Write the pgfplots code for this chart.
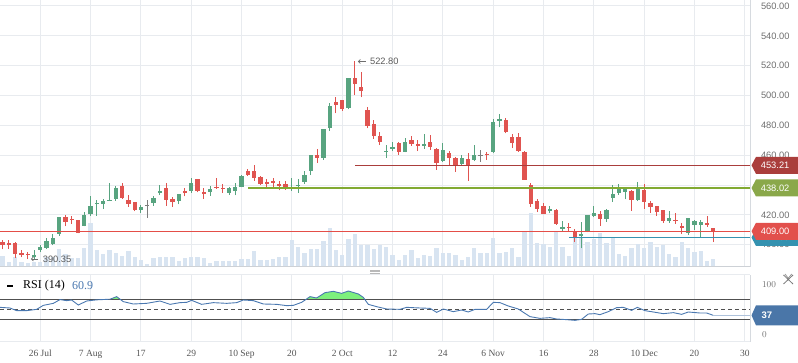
\documentclass[border=0pt]{standalone}
\usepackage{fontspec}
\setmainfont{Liberation Serif}
\setsansfont{Liberation Sans}
\usepackage{pgfplots}
\usepackage{pgfplotstable}
\pgfplotsset{compat=1.18}
\usetikzlibrary{arrows.meta}

\definecolor{cgreen}{RGB}{88,164,128}
\definecolor{cred}{RGB}{224,84,80}
\definecolor{cgray}{RGB}{125,125,125}
\definecolor{gridc}{RGB}{232,235,239}
\definecolor{borderc}{RGB}{214,218,223}
\definecolor{volc}{RGB}{216,228,241}
\definecolor{levelbrown}{RGB}{170,62,60}
\definecolor{levelolive}{RGB}{130,170,50}
\definecolor{levelred}{RGB}{228,78,72}
\definecolor{levelteal}{RGB}{52,146,176}
\definecolor{tagGreen}{RGB}{138,168,74}
\definecolor{tagRed}{RGB}{226,80,76}
\definecolor{tagBrown}{RGB}{170,62,60}
\definecolor{tagTeal}{RGB}{52,146,176}
\definecolor{rsiblue}{RGB}{74,120,176}
\definecolor{rsifill}{RGB}{125,240,125}
\definecolor{txtgray}{RGB}{110,110,110}
\definecolor{dategray}{RGB}{85,85,85}
\definecolor{tagblue}{RGB}{74,118,168}
\definecolor{lineDark}{RGB}{80,80,80}

% i open high low close
\pgfplotstableread{
i o h l c
5 391.8 396.5 390.5 393.1
6 396.5 399.8 394.9 398.7
7 397.6 404.3 397.1 402.5
8 400.5 407.4 399.6 404.3
9 407.4 418.8 406.1 418.6
13 412.8 422.2 412.3 420.0
14 420.6 432.9 419.5 426.0
15 427.5 430.0 419.3 428.2
16 427.3 430.7 424.2 429.1
17 429.5 441.2 429.3 430.2
18 430.4 439.4 429.5 438.0
22 423.5 426.6 421.5 425.5
24 428.0 432.7 426.2 431.3
25 435.1 439.8 433.3 435.6
28 429.5 434.2 427.1 434.0
30 436.0 444.7 434.9 441.4
33 435.6 439.4 432.9 437.1
36 434.7 438.5 433.6 438.0
37 436.0 441.4 433.1 438.9
38 438.9 447.0 438.5 446.1
46 438.3 444.9 436.2 438.9
47 439.4 444.2 434.9 440.0
48 442.3 449.6 440.7 446.5
49 449.6 460.3 446.7 460.1
51 458.3 477.7 456.8 477.5
52 478.4 495.2 476.4 493.0
55 491.6 511.9 490.7 511.7
61 462.4 466.8 458.3 463.0
62 464.8 469.1 462.8 465.4
64 462.4 471.3 461.9 468.8
67 466.6 474.4 464.4 467.1
70 456.1 468.4 455.7 463.5
73 454.3 460.1 453.4 457.9
75 457.0 466.8 455.9 460.1
78 461.9 484.5 461.3 482.0
79 483.4 487.6 478.7 484.0
87 422.8 426.0 421.0 423.9
89 410.8 415.9 409.4 412.1
92 406.0 415.2 397.6 407.2
93 409.2 420.1 408.3 419.9
94 419.0 426.0 418.4 421.3
96 417.5 424.2 415.5 423.3
97 431.5 439.8 428.9 434.0
98 434.9 440.7 433.6 438.7
99 435.1 438.9 430.4 438.7
101 430.0 442.1 429.3 438.7
106 416.1 422.6 414.8 417.9
109 407.7 417.9 406.8 417.7
110 413.5 416.4 409.9 415.7
111 413.5 416.6 405.0 415.2
}\greenT

\pgfplotstableread{
i o h l c
23 426.2 429.8 418.1 426.8
76 459.7 463.3 455.7 460.3
}\grayT

\pgfplotstableread{
i o h l c
0 401.6 403.0 396.9 400.1
1 401.4 403.2 397.4 399.6
2 401.2 401.8 391.3 394.0
3 394.5 396.5 391.6 393.1
4 393.8 395.4 390.35 393.1
10 418.6 420.0 412.3 415.2
11 417.3 419.5 413.9 416.6
12 416.6 416.8 407.6 408.1
19 439.4 441.6 430.7 431.3
20 430.0 433.3 425.5 427.5
21 428.6 428.8 422.4 423.5
26 437.8 441.2 426.2 430.0
27 430.7 432.0 425.5 428.6
29 435.8 438.0 432.4 435.1
31 444.1 444.3 435.1 436.2
32 435.1 437.8 430.9 434.4
34 438.7 444.7 437.4 438.0
35 438.0 440.7 434.7 437.6
39 449.2 451.0 446.3 447.0
40 449.6 453.4 442.9 444.7
41 445.4 446.1 440.0 440.9
42 442.0 443.8 438.2 440.9
43 442.7 444.9 438.5 441.4
44 440.9 442.5 436.4 439.8
45 440.9 442.7 436.9 438.0
50 460.1 464.1 455.0 458.3
53 495.7 498.8 488.0 493.6
54 497.0 497.2 489.8 491.2
56 511.7 522.8 500.3 507.9
57 505.7 515.8 498.8 503.2
58 490.1 492.1 478.0 479.8
59 480.9 483.6 471.1 473.1
60 473.1 475.6 466.8 469.1
63 468.2 469.1 460.4 462.4
65 470.2 472.9 466.2 467.5
66 467.1 470.2 462.8 466.6
68 468.8 473.8 463.5 465.3
69 464.2 464.8 450.1 455.0
71 461.7 462.8 453.2 458.3
72 458.1 459.0 449.0 453.4
74 457.5 461.3 442.9 453.2
77 460.8 462.4 457.0 460.4
80 483.4 484.7 474.7 475.3
81 472.2 474.5 464.7 468.4
82 472.3 474.7 462.3 463.0
83 462.2 462.8 443.4 443.6
84 440.0 441.6 425.5 427.5
85 429.3 430.7 421.9 424.2
86 426.0 427.7 420.4 420.8
88 423.3 423.7 413.4 414.1
90 411.9 414.6 408.5 411.4
91 408.8 410.3 401.8 404.7
95 420.6 422.8 412.6 417.5
100 436.2 436.4 422.8 430.0
102 436.7 440.7 424.0 428.9
103 428.0 429.3 421.3 425.5
104 426.0 426.2 419.5 422.2
105 423.3 423.5 414.4 416.1
107 416.6 421.3 413.9 416.1
108 412.4 414.8 407.4 411.9
112 414.4 419.5 412.1 413.9
113 411.2 411.4 401.8 409.0
}\redT

% volume (bar height in panel pixels)
\pgfplotstableread{
i v
0 11
1 5
2 9.7
3 5
4 3.7
5 5
6 5
7 10.3
8 10.3
9 18.3
10 13
11 9
12 9
13 19
14 44.3
15 17
16 13
17 17
18 14.3
19 11
20 16.3
21 10
22 7
23 3
24 9
25 10
26 10
27 10
28 6
29 9
30 10
31 10
32 9
33 4
34 6
35 6
36 6
37 6
38 8
39 8
40 16
41 7
42 7
43 8
44 10
45 10
46 27
47 20
48 14
49 18
50 18
51 26
52 39
53 17
54 12
55 28
56 33
57 22
58 22
59 18
60 22
61 20
62 12
63 7
64 12
65 17
66 9
67 12
68 11
69 19
70 14
71 14
72 12
73 7
74 10
75 19
76 14
77 14
78 29
79 14
80 15
81 19
82 10
83 35
84 54
85 24
86 23
87 20
88 35
89 20
90 11
91 35
92 30
93 25
94 28
95 34
96 24
97 30
98 13
99 11
100 19
101 23
102 19
103 25
104 20
105 22
106 13
107 10
108 25
109 19
110 15
111 16
112 6
113 8
}\volT

\pgfplotstableread{
i r
-0.41 54
1.18 52.7
2.24 47.4
3.83 47.4
5.42 50
6.48 58
8.07 62
9.13 69.5
10.19 67.4
10.98 68.7
12.04 58.7
13.37 66.7
14.96 69
17.08 70.3
18.14 75.4
19.2 65.4
20.79 60.7
22.91 62
25.03 66.7
26.62 60
28.21 63.4
29.27 64
30.06 68
31.65 60
33.51 63.4
35.63 62
37.22 63.4
38.28 68.7
39.87 67.4
41.46 60.7
43.58 60
45.17 57.4
46.23 58
47.55 64
48.88 75.4
49.93 72.7
51.26 83.4
52.58 86
53.91 82
54.97 86.7
56.56 80.7
57.35 74
58.15 60
59.47 55.4
61.06 50.7
63.18 50
64.24 54
66.36 52.7
67.95 52
69.01 44
70.07 50.7
71.66 45.4
72.98 48.7
74.04 44.7
75.1 50
76.96 50
78.02 64
79.08 63.4
80.4 56.7
81.99 50.7
83.85 35.4
85.44 32
87.03 33.4
88.09 30.7
89.68 29.4
91.0 28
92.06 30
93.12 40.7
94.18 41.4
94.98 39.4
96.3 45.4
97.63 53.4
98.69 54
100.01 48
100.91 54
102.13 47.4
103.46 44.7
105.05 41.4
106.64 43.4
107.96 40
109.02 44.7
110.88 42.7
111.94 42.7
112.99 38
}\rsiT

\pgfplotsset{
  candlewick/.style={draw=none, mark=none, forget plot,
    error bars/.cd, y dir=plus, y explicit, error mark=none,
    error bar style={draw=#1, line width=1pt}},
  candlebody/.style={draw=none, mark=none, forget plot,
    error bars/.cd, y dir=both, y explicit, error mark=none,
    error bar style={draw=#1, line width=4.3pt}},
}

\newcommand{\pricetag}[4]{%
  \fill[#2] ([xshift=1.5pt]#1) -- ++(4.5pt,#4) -- ++(42pt,0pt) -- ++(0pt,-2*#4) -- ++(-42pt,0pt) -- cycle;
  \node[anchor=west, inner sep=0pt, text=white, font=\sffamily\fontsize{9.3}{10}\selectfont] at ([xshift=10.7pt]#1) {#3};
}

\begin{document}
\begin{tikzpicture}
\path[use as bounding box] (0pt,0pt) rectangle (798pt,363pt);

% ---------- grid + price labels ----------
\begin{axis}[at={(0pt,96pt)}, anchor=south west, scale only axis,
  width=750pt, height=267pt,
  xmin=-0.41, xmax=118.83, ymin=385.07, ymax=564.02,
  axis line style={draw=none}, major tick length=0pt,
  xtick={6,14,...,118}, xticklabels={},
  ytick={400,420,...,560}, yticklabel pos=right,
  yticklabel style={font=\sffamily\fontsize{9.3}{10}\selectfont, text=txtgray, anchor=west, xshift=7.5pt},
  /pgf/number format/fixed, /pgf/number format/fixed zerofill,
  /pgf/number format/precision=2, /pgf/number format/assume math mode=true,
  xmajorgrids, ymajorgrids, grid style={gridc, line width=1pt}]
\addplot[draw=none, forget plot] coordinates {(0,400) (1,401)};
\end{axis}

% ---------- volume ----------
\begin{axis}[at={(0pt,96pt)}, anchor=south west, scale only axis,
  width=750pt, height=267pt, hide axis,
  xmin=-0.41, xmax=118.83, ymin=0, ymax=267]
\addplot[ycomb, draw=volc, line width=4.3pt, mark=none] table[x=i, y=v] {\volT};
\end{axis}

% ---------- candles and levels ----------
\begin{axis}[at={(0pt,96pt)}, anchor=south west, scale only axis,
  width=750pt, height=267pt, hide axis, clip=false,
  xmin=-0.41, xmax=118.83, ymin=385.07, ymax=564.02]
\addplot[candlewick=cgreen] table[x=i, y=l, y error plus expr=\thisrow{h}-\thisrow{l}] {\greenT};
\addplot[candlebody=cgreen] table[x=i, y expr=(\thisrow{o}+\thisrow{c})/2, y error expr={max(abs(\thisrow{c}-\thisrow{o})/2,0.35)}] {\greenT};
\addplot[candlewick=cred] table[x=i, y=l, y error plus expr=\thisrow{h}-\thisrow{l}] {\redT};
\addplot[candlebody=cred] table[x=i, y expr=(\thisrow{o}+\thisrow{c})/2, y error expr={max(abs(\thisrow{c}-\thisrow{o})/2,0.35)}] {\redT};
\addplot[candlewick=cgray] table[x=i, y=l, y error plus expr=\thisrow{h}-\thisrow{l}] {\grayT};
\addplot[candlebody=cgray] table[x=i, y expr=(\thisrow{o}+\thisrow{c})/2, y error expr={max(abs(\thisrow{c}-\thisrow{o})/2,0.35)}] {\grayT};

\fill[levelteal] ([yshift=-0.6pt]axis cs:90,404.85) rectangle ([yshift=0.6pt]axis cs:118.83,404.85);
\fill[levelolive] ([yshift=-0.6pt]axis cs:39,438.02) rectangle ([yshift=0.6pt]axis cs:118.83,438.02);
\fill[levelbrown] ([yshift=-0.6pt]axis cs:56,453.21) rectangle ([yshift=0.6pt]axis cs:118.83,453.21);
\fill[levelred] ([yshift=-0.6pt]axis cs:-0.41,409) rectangle ([yshift=0.6pt]axis cs:118.83,409);

\draw[txtgray, line width=0.7pt, -{Straight Barb[length=2pt,width=4pt]}] (axis cs:57.7,522.8) -- (axis cs:56.5,522.8);
\node[anchor=west, inner sep=0pt, text={rgb,255:red,90;green,90;blue,90}, font=\sffamily\fontsize{9.3}{10}\selectfont] at (axis cs:58.4,522.8) {522.80};
\draw[txtgray, line width=0.7pt, -{Straight Barb[length=2pt,width=4pt]}] (axis cs:5.65,390.35) -- (axis cs:4.5,390.35);
\node[anchor=west, inner sep=0pt, text={rgb,255:red,90;green,90;blue,90}, font=\sffamily\fontsize{9.3}{10}\selectfont] at (axis cs:6.37,390.35) {390.35};

\coordinate (tD) at (axis cs:118.83,453.21);
\coordinate (tG) at (axis cs:118.83,438.02);
\coordinate (tR) at (axis cs:118.83,409);
\coordinate (tT) at (axis cs:118.83,404.85);
\end{axis}

% ---------- RSI grid and labels ----------
\begin{axis}[at={(0pt,21pt)}, anchor=south west, scale only axis,
  width=750pt, height=67pt,
  xmin=-0.41, xmax=118.83, ymin=-15.3, ymax=118.7,
  axis line style={draw=none}, major tick length=0pt,
  xtick={6,14,...,118},
  xticklabels={26 Jul, 7 Aug, 17, 29, 10 Sep, 20, 2 Oct, 12, 24, 6 Nov, 16, 28, 10 Dec, 20, 30},
  xticklabel style={font=\fontsize{9.5}{10}\selectfont, text=dategray, yshift=-4.8pt},
  ytick={0,100}, yticklabel pos=right,
  yticklabel style={font=\sffamily\fontsize{9.3}{10}\selectfont, text=txtgray, anchor=west, xshift=8.5pt},
  xmajorgrids, grid style={gridc, line width=1pt}]
\addplot[draw=none, forget plot] coordinates {(0,0) (1,1)};
\end{axis}

% ---------- RSI overbought fill (axis clipped at 70) ----------
\begin{axis}[at={(0pt,63.65pt)}, anchor=south west, scale only axis,
  width=750pt, height=24.35pt, hide axis,
  xmin=-0.41, xmax=118.83, ymin=70, ymax=118.7]
\addplot[fill=rsifill, draw=none] table[x=i, y=r] {\rsiT} \closedcycle;
\end{axis}

% ---------- RSI lines ----------
\begin{axis}[at={(0pt,21pt)}, anchor=south west, scale only axis,
  width=750pt, height=67pt, hide axis,
  xmin=-0.41, xmax=118.83, ymin=-15.3, ymax=118.7]
\addplot[draw=lineDark, line width=0.9pt, mark=none] coordinates {(-0.41,70) (118.83,70)};
\addplot[draw=lineDark, line width=0.9pt, mark=none] coordinates {(-0.41,30) (118.83,30)};
\addplot[draw=lineDark, line width=0.9pt, mark=none, dash pattern=on 4pt off 3pt] coordinates {(-0.41,50) (118.83,50)};
\addplot[draw=rsiblue, line width=0.9pt, mark=none] table[x=i, y=r] {\rsiT};
\addplot[draw=rsiblue!45, line width=0.8pt, mark=none] coordinates {(112.99,38) (118.83,38)};
\coordinate (tB) at (axis cs:118.83,38);
\end{axis}

% ---------- frames ----------
\draw[color={rgb,255:red,205;green,209;blue,214}, line width=1pt] (0pt,96pt) -- (750pt,96pt);
\draw[borderc, line width=1pt] (750pt,96pt) -- (750pt,363pt);
\draw[gridc, line width=1pt] (0pt,88pt) -- (750pt,88pt);
\draw[gridc, line width=1pt] (0pt,21pt) -- (750pt,21pt);
\draw[borderc, line width=1pt] (750pt,21pt) -- (750pt,88pt);
\draw[color={rgb,255:red,185;green,185;blue,185}, line width=0.6pt] (370pt,93pt) -- (380pt,93pt) (370pt,91.3pt) -- (380pt,91.3pt) (370pt,89.7pt) -- (380pt,89.7pt);
\draw[color={rgb,255:red,150;green,150;blue,150}, line width=0.8pt] (785pt,89pt) -- (788.3pt,84.7pt) -- (791.7pt,89pt);
\draw[color={rgb,255:red,120;green,120;blue,120}, line width=0.8pt] (783.5pt,88pt) -- (793pt,79pt) (783.5pt,79pt) -- (793pt,88pt);

% ---------- tags ----------
\pricetag{tT}{tagTeal}{404.85}{8.5pt}
\pricetag{tR}{tagRed}{409.00}{8.5pt}
\pricetag{tG}{tagGreen}{438.02}{8.5pt}
\pricetag{tD}{tagBrown}{453.21}{8.5pt}
\fill[tagblue] ([xshift=1.5pt]tB) -- ++(4.5pt,10pt) -- ++(42pt,0pt) -- ++(0pt,-20pt) -- ++(-42pt,0pt) -- cycle;
\node[anchor=west, inner sep=0pt, text=white, font=\sffamily\bfseries\fontsize{9.5}{10}\selectfont] at ([xshift=11.5pt]tB) {37};

% ---------- RSI legend ----------
\draw[black, line width=1.8pt] (7pt,77pt) -- (12.5pt,77pt);
\node[anchor=west, inner sep=0pt, font=\fontsize{12}{12}\selectfont] at (23pt,77pt) {RSI (14)};
\node[anchor=west, inner sep=0pt, text=rsiblue, font=\fontsize{12}{12}\selectfont] at (72pt,77pt) {60.9};
\end{tikzpicture}
\end{document}
